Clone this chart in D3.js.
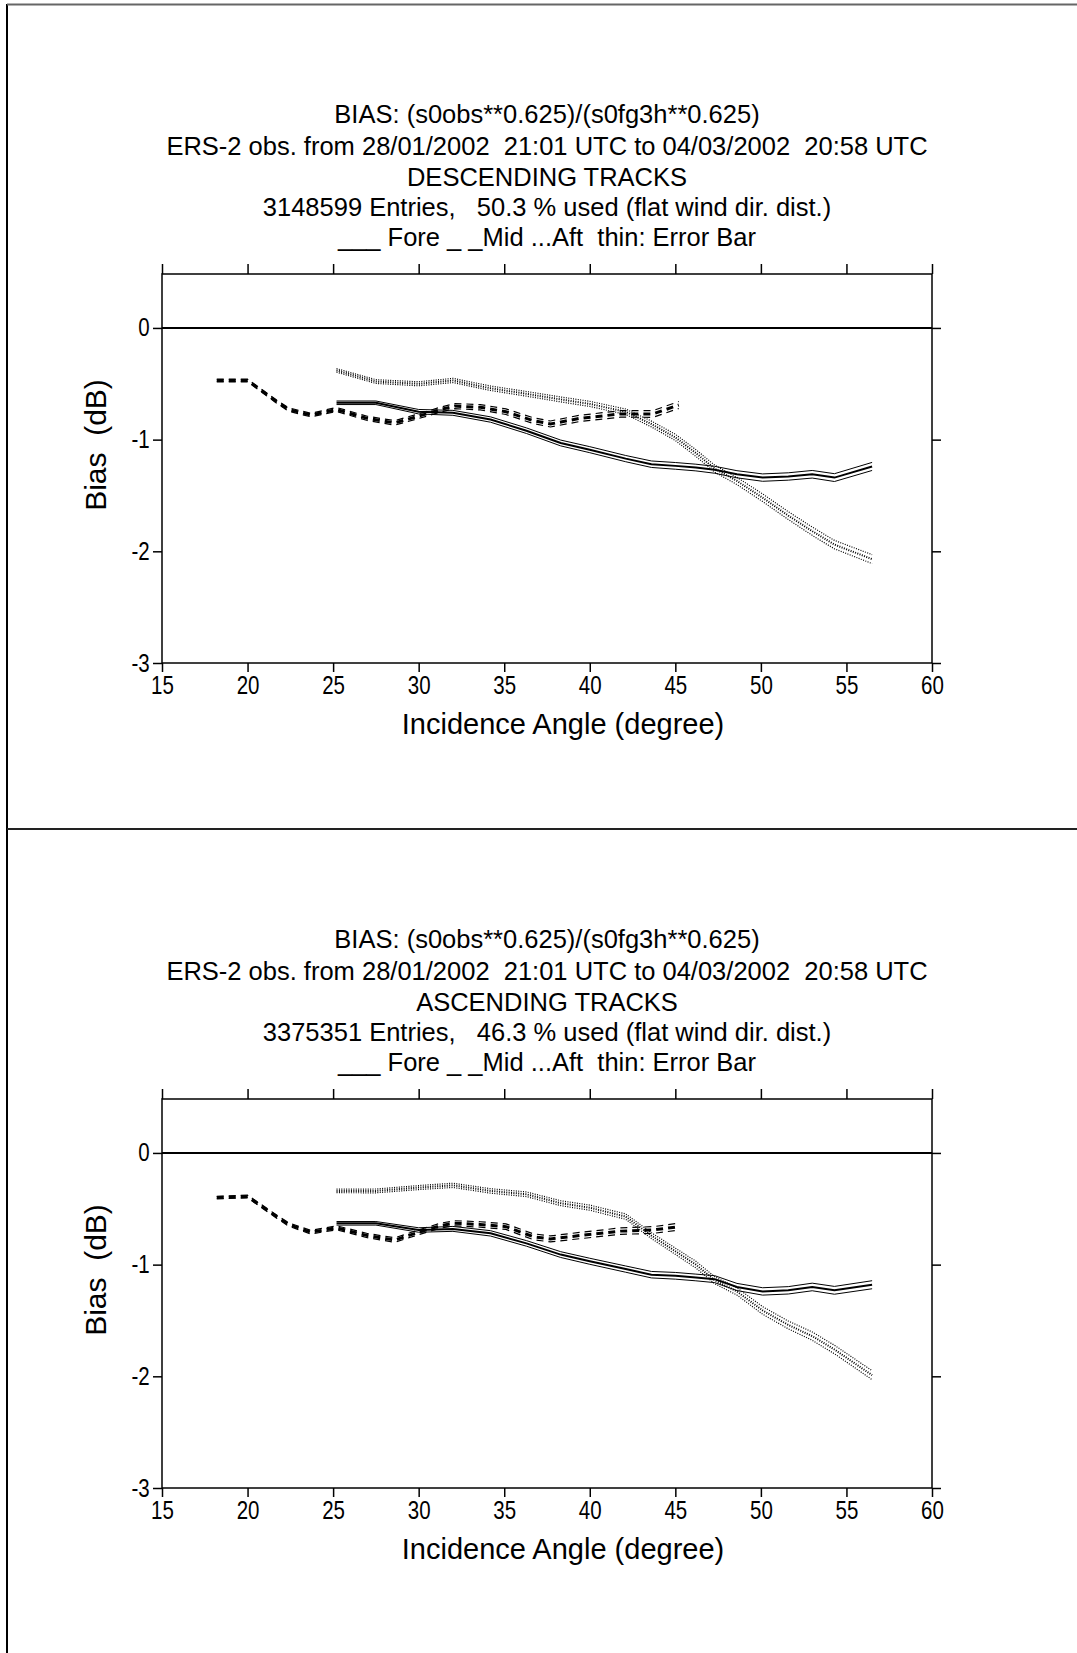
<!DOCTYPE html>
<html>
<head>
<meta charset="utf-8">
<script src="https://cdn.jsdelivr.net/npm/d3@7"></script>
<style>
  body { margin: 0; background: #fff; }
  text { font-family: "Liberation Sans", Arial, Helvetica, sans-serif; fill: #000; white-space: pre; }
</style>
</head>
<body>
<svg id="fig" width="1077" height="1653"></svg>
<script>
// ---- axis ticks ----
const xTicks = [15, 20, 25, 30, 35, 40, 45, 50, 55, 60];
const yTicks = [0, -1, -2, -3];

// ---- titles ----
const descTitle = [
  "BIAS: (s0obs**0.625)/(s0fg3h**0.625)",
  "ERS-2 obs. from 28/01/2002  21:01 UTC to 04/03/2002  20:58 UTC",
  "DESCENDING TRACKS",
  "3148599 Entries,   50.3 % used (flat wind dir. dist.)",
  "___ Fore _ _Mid ...Aft  thin: Error Bar"
];
const ascTitle = [
  "BIAS: (s0obs**0.625)/(s0fg3h**0.625)",
  "ERS-2 obs. from 28/01/2002  21:01 UTC to 04/03/2002  20:58 UTC",
  "ASCENDING TRACKS",
  "3375351 Entries,   46.3 % used (flat wind dir. dist.)",
  "___ Fore _ _Mid ...Aft  thin: Error Bar"
];

// ---- incidence angles of the beam nodes (degree) ----
const foreAftAngles = [25.2, 27.5, 30.0, 32.0, 34.2, 36.3, 38.3, 40.0, 42.1, 43.6, 45.0, 46.2, 47.3, 48.6, 50.1, 51.6, 53.0, 54.3, 56.5];
const midAngles = [18.2, 20.0, 21.7, 22.4, 23.7, 25.2, 27.0, 28.6, 30.0, 31.3, 32.1, 33.6, 35.1, 36.7, 37.7, 39.4, 41.8, 43.7, 45.2];

// ---- bias (dB), descending tracks ----
const descFore = [-0.67, -0.67, -0.75, -0.76, -0.82, -0.92, -1.03, -1.09, -1.17, -1.22, -1.235, -1.25, -1.27, -1.31, -1.34, -1.33, -1.31, -1.34, -1.24];
const descMid  = [-0.47, -0.47, -0.66, -0.73, -0.78, -0.73, -0.81, -0.85, -0.79, -0.73, -0.70, -0.71, -0.75, -0.83, -0.86, -0.81, -0.77, -0.77, -0.69];
const descAft  = [-0.38, -0.48, -0.50, -0.47, -0.54, -0.59, -0.64, -0.68, -0.75, -0.86, -0.98, -1.12, -1.26, -1.37, -1.52, -1.68, -1.82, -1.94, -2.07];

// ---- bias (dB), ascending tracks ----
const ascFore = [-0.63, -0.63, -0.69, -0.68, -0.72, -0.81, -0.91, -0.97, -1.04, -1.09, -1.10, -1.115, -1.13, -1.20, -1.24, -1.23, -1.20, -1.23, -1.18];
const ascMid  = [-0.40, -0.39, -0.57, -0.64, -0.71, -0.67, -0.74, -0.78, -0.71, -0.65, -0.63, -0.64, -0.66, -0.75, -0.77, -0.74, -0.70, -0.69, -0.66];
const ascAft  = [-0.34, -0.34, -0.31, -0.29, -0.34, -0.37, -0.45, -0.49, -0.57, -0.74, -0.88, -1.00, -1.14, -1.24, -1.41, -1.54, -1.64, -1.76, -1.99];

// ---- error bar half widths (dB) ----
const foreErr = [0.016, 0.016, 0.020, 0.022, 0.024, 0.025, 0.026, 0.027, 0.028, 0.029, 0.030, 0.030, 0.031, 0.032, 0.033, 0.033, 0.034, 0.035, 0.036];
const midErr  = [0.012, 0.012, 0.014, 0.015, 0.016, 0.018, 0.019, 0.020, 0.021, 0.022, 0.023, 0.024, 0.025, 0.026, 0.027, 0.028, 0.029, 0.030, 0.031];
const aftErr  = [0.016, 0.017, 0.018, 0.019, 0.020, 0.021, 0.022, 0.023, 0.024, 0.026, 0.028, 0.030, 0.031, 0.032, 0.034, 0.035, 0.037, 0.038, 0.040];

const svg = d3.select("#fig");
svg.append("rect").attr("width", 1077).attr("height", 1653).attr("fill", "#fff");

// page frame and panel divider
svg.append("line").attr("x1", 7).attr("x2", 7).attr("y1", 4).attr("y2", 1653)
  .attr("stroke", "#000").attr("stroke-width", 2);
svg.append("line").attr("x1", 7).attr("x2", 1077).attr("y1", 4.5).attr("y2", 4.5)
  .attr("stroke", "#666").attr("stroke-width", 2);
svg.append("line").attr("x1", 7).attr("x2", 1077).attr("y1", 829).attr("y2", 829)
  .attr("stroke", "#222").attr("stroke-width", 2);

const x = d3.scaleLinear().domain([15, 60]).range([162, 932]);
const y = d3.scaleLinear().domain([-3, 0.483]).range([663, 274]);

const line = d3.line().x(d => x(d[0])).y(d => y(d[1]));

function drawBeam(g, angles, bias, err, style) {
  const center = angles.map((a, i) => [a, bias[i]]);
  const upper = angles.map((a, i) => [a, bias[i] + err[i]]);
  const lower = angles.map((a, i) => [a, bias[i] - err[i]]);
  [upper, lower].forEach(pts => {
    g.append("path").attr("d", line(pts)).attr("fill", "none")
      .attr("stroke", "#000").attr("stroke-width", style.thin)
      .attr("stroke-dasharray", style.dash);
  });
  g.append("path").attr("d", line(center)).attr("fill", "none")
    .attr("stroke", "#000").attr("stroke-width", style.thick)
    .attr("stroke-dasharray", style.dash);
}

function drawPanel(offset, titleLines, fore, mid, aft) {
  const g = svg.append("g").attr("transform", `translate(0,${offset})`);

  // title block
  const titleY = [123, 155, 185.5, 216, 246];
  titleLines.forEach((t, i) => {
    g.append("text").attr("x", 547).attr("y", titleY[i])
      .attr("text-anchor", "middle").attr("font-size", 25.5).text(t);
  });

  // frame
  g.append("rect").attr("x", x(15)).attr("y", y(0.483))
    .attr("width", x(60) - x(15)).attr("height", y(-3) - y(0.483))
    .attr("fill", "none").attr("stroke", "#000").attr("stroke-width", 1.5);

  // axes
  const ax = [
    g.append("g").attr("transform", `translate(0,${y(-3)})`)
      .call(d3.axisBottom(x).tickValues(xTicks).tickSize(9).tickPadding(4).tickFormat(d => String(d))),
    g.append("g").attr("transform", `translate(0,${y(0.483)})`)
      .call(d3.axisTop(x).tickValues(xTicks).tickSize(10).tickFormat("")),
    g.append("g").attr("transform", `translate(${x(15)},0)`)
      .call(d3.axisLeft(y).tickValues(yTicks).tickSize(9).tickPadding(4).tickFormat(d => String(d))),
    g.append("g").attr("transform", `translate(${x(60)},0)`)
      .call(d3.axisRight(y).tickValues(yTicks).tickSize(9).tickFormat(""))
  ];
  ax.forEach(a => {
    a.select(".domain").remove();
    a.selectAll(".tick line").attr("stroke", "#000").attr("stroke-width", 1.5);
    a.selectAll(".tick text").attr("font-size", 25).attr("fill", "#000")
      .attr("font-family", '"Liberation Sans", Arial, sans-serif');
  });
  ax[0].selectAll(".tick text").attr("transform", "scale(0.82,1)");
  ax[2].selectAll(".tick text").attr("transform", "scale(0.82,1)").attr("x", -15);

  // zero reference line
  g.append("line").attr("x1", x(15)).attr("x2", x(60)).attr("y1", y(0)).attr("y2", y(0))
    .attr("stroke", "#000").attr("stroke-width", 2);

  // axis titles
  g.append("text").attr("x", 563).attr("y", 734).attr("text-anchor", "middle")
    .attr("font-size", 29).text("Incidence Angle (degree)");
  g.append("text").attr("transform", "translate(106,445) rotate(-90)")
    .attr("text-anchor", "middle").attr("font-size", 30).text("Bias  (dB)");

  // beams
  drawBeam(g, foreAftAngles, aft, aftErr, { thick: 2, thin: 1.2, dash: "1,1.4" });
  drawBeam(g, midAngles, mid, midErr, { thick: 3, thin: 1.2, dash: "7,5" });
  drawBeam(g, foreAftAngles, fore, foreErr, { thick: 2, thin: 1, dash: null });
}

drawPanel(0, descTitle, descFore, descMid, descAft);
drawPanel(825, ascTitle, ascFore, ascMid, ascAft);
</script>
</body>
</html>
